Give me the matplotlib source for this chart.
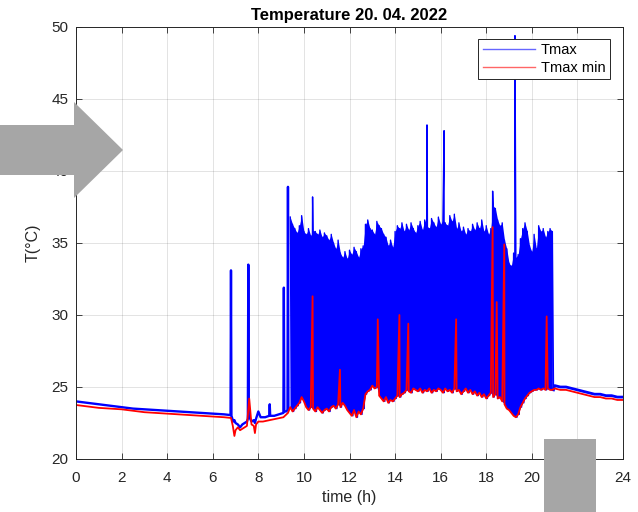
import numpy as np
import matplotlib
matplotlib.use("Agg")
import matplotlib.pyplot as plt
from matplotlib.patches import Polygon
from matplotlib.lines import Line2D

# ---------------- data ----------------
# quiet period before the active phase: Tmax
t_pre = [0, 0.5, 1, 1.5, 2, 2.5, 3, 3.5, 4, 4.5, 5, 5.5, 6, 6.5, 6.78, 6.8, 6.82,
         6.9, 6.95, 7.0, 7.1, 7.2, 7.3, 7.4, 7.5, 7.54, 7.56, 7.58, 7.7, 7.8, 7.85,
         7.9, 8.0, 8.1, 8.3, 8.48, 8.5, 8.52, 8.7, 8.9, 9.1, 9.12, 9.14, 9.22, 9.28,
         9.3, 9.32]
tmax_pre = [24.0, 23.9, 23.8, 23.7, 23.6, 23.5, 23.45, 23.4, 23.35, 23.3, 23.25, 23.2,
            23.15, 23.1, 23.05, 33.1, 23.0, 22.6, 22.7, 22.5, 22.4, 22.2, 22.4, 22.5,
            22.6, 22.8, 33.5, 23.0, 22.6, 22.7, 22.5, 22.8, 23.3, 22.9, 22.9, 23.0,
            23.8, 23.0, 23.0, 23.1, 23.2, 31.9, 23.3, 23.3, 23.4, 38.9, 23.5]

# active phase: peak envelope (every 0.1 h from 9.4 h) and trough values
t_act_start = 9.4
tmax_hi = [36.8, 36.3, 36.0, 35.7, 36.2, 36.9, 35.8, 35.6, 36.0, 35.5,
           35.9, 35.8, 35.6, 35.9, 35.4, 35.7, 35.5, 35.2, 35.6, 35.0,
           34.6, 35.2, 34.3, 34.0, 34.4, 33.9, 34.5, 34.2, 34.7, 34.4,
           34.0, 34.6, 34.8, 36.3, 36.6, 36.0, 35.9, 35.6, 36.5, 36.2,
           36.0, 35.6, 35.4, 34.8, 35.2, 34.7, 35.8, 36.2, 36.0, 36.4,
           35.8, 36.3, 35.9, 36.4, 36.0, 35.7, 36.2, 36.5, 35.9, 36.6,
           36.2, 36.0, 36.7, 36.4, 36.1, 36.8, 36.3, 36.6, 36.4, 36.2,
           36.9, 36.5, 37.0, 36.0, 36.4, 35.8, 36.1, 35.6, 36.0, 35.8,
           36.3, 35.9, 36.4, 36.0, 36.6, 35.8, 36.2, 35.6, 36.0, 37.6,
           37.4, 36.6, 36.2, 36.4, 35.2, 34.6, 33.6, 33.4, 34.3, 34.0,
           34.2, 35.3, 36.0, 36.4, 35.8, 34.8, 34.4, 35.6, 34.6, 36.2,
           35.8, 36.0, 35.4, 35.8, 36.0, 35.8]
tmin_act = [23.6, 23.3, 23.5, 23.7, 23.9, 24.3, 24.0, 23.6, 23.4, 23.6,
            23.5, 23.3, 23.6, 23.4, 23.2, 23.4, 23.5, 23.3, 23.6, 23.7,
            23.5, 23.8, 23.6, 23.9, 23.7, 23.4, 23.2, 23.0, 23.4, 22.9,
            23.3, 23.1, 23.5, 24.5, 24.7, 24.8, 25.1, 24.9, 25.0, 24.4,
            24.2, 24.0, 24.3, 23.9, 24.1, 24.0, 24.2, 24.4, 24.3, 24.5,
            24.6, 24.8, 24.7, 24.6, 24.9, 24.8, 24.7, 24.9, 24.6, 24.8,
            24.7, 24.9, 24.6, 24.8, 24.7, 24.9, 24.8, 24.6, 24.9, 24.7,
            24.8, 24.6, 24.9, 24.7, 24.8, 24.5, 24.7, 24.9, 24.6, 24.8,
            24.5, 24.7, 24.4, 24.6, 24.3, 24.5, 24.2, 24.4, 24.6, 24.3,
            24.5, 24.2, 24.3, 24.0, 23.8, 23.5, 23.4, 23.2, 23.0, 22.9,
            23.1, 23.6, 23.9, 24.2, 24.4, 24.6, 24.7, 24.8, 24.8, 24.9,
            24.8, 24.9, 24.8, 24.9, 24.8, 24.8]

# isolated tall spikes of Tmax during the active phase
t_max_spk = [10.38, 15.40, 16.15, 18.28, 19.26]
tmax_spk = [38.2, 43.2, 42.8, 38.6, 49.4]

# quiet period after the active phase
t_post = [21.0, 21.25, 21.5, 21.75, 22.0, 22.25, 22.5, 22.75, 23.0, 23.25, 23.5, 23.75, 24.0]
tmax_post = [25.1, 25.0, 25.0, 24.9, 24.8, 24.7, 24.6, 24.5, 24.5, 24.4, 24.4, 24.3, 24.3]
tmin_post = [24.9, 24.8, 24.8, 24.7, 24.6, 24.5, 24.4, 24.3, 24.3, 24.2, 24.2, 24.1, 24.1]

# Tmax min before the active phase
t_min_pre = [0, 0.5, 1, 1.5, 2, 2.5, 3, 3.5, 4, 4.5, 5, 5.5, 6, 6.5, 6.8, 6.88, 6.95,
             7.0, 7.1, 7.2, 7.3, 7.4, 7.5, 7.6, 7.7, 7.8, 7.85, 7.9, 8.0, 8.2, 8.5,
             8.8, 9.1, 9.3]
tmin_pre = [23.75, 23.65, 23.55, 23.5, 23.45, 23.35, 23.25, 23.2, 23.15, 23.1, 23.05,
            23.0, 22.95, 22.9, 22.85, 22.3, 21.6, 22.0, 22.2, 22.0, 22.1, 22.2, 22.3,
            24.2, 22.4, 22.3, 21.8, 22.4, 22.6, 22.6, 22.7, 22.8, 22.9, 23.2]

# isolated spikes of Tmax min during the active phase
t_min_spk = [10.38, 11.58, 13.24, 14.19, 14.58, 16.68, 18.28, 18.46, 18.79, 20.65]
tmin_spk = [31.3, 26.2, 29.7, 30.0, 29.4, 29.7, 36.1, 30.9, 34.9, 29.9]

title = "Temperature 20. 04. 2022"
xticks = list(range(0, 25, 2))
yticks = list(range(20, 51, 5))

# ---------------- build series ----------------
n_act = len(tmax_hi)
t_hi = t_act_start + 0.1 * np.arange(n_act)
t_lo = t_hi + 0.05
t_zig = np.concatenate([t_hi, t_lo, t_max_spk])
v_zig = np.concatenate([tmax_hi, tmin_act, tmax_spk])
order = np.argsort(t_zig, kind="stable")
t_zig, v_zig = t_zig[order], v_zig[order]

t_red = np.concatenate([t_min_pre, t_hi, t_min_spk, t_post])
v_red = np.concatenate([tmin_pre, tmin_act, tmin_spk, tmin_post])
order = np.argsort(t_red, kind="stable")
t_red, v_red = t_red[order], v_red[order]

# ---------------- plot ----------------
plt.rcParams['font.family'] = ['Liberation Sans', 'DejaVu Sans']
fig = plt.figure(figsize=(6.38, 5.12), dpi=100)
ax = fig.add_axes([76 / 638, 1 - 459 / 512, (623 - 76) / 638, 432 / 512])

blue = (0, 0, 1)
red = (1, 0, 0)
ax.plot(t_pre, tmax_pre, color=blue, lw=1.7)
ax.fill_between(t_hi, tmin_act, tmax_hi, color=blue, lw=0)
ax.plot(t_zig, v_zig, color=blue, lw=1.0)
ax.plot(np.concatenate([[t_zig[-1]], t_post]), np.concatenate([[v_zig[-1]], tmax_post]),
        color=blue, lw=2.0)
ax.plot(t_red, v_red, color=red, lw=1.3)

ax.set_xlim(0, 24)
ax.set_ylim(20, 50)
ax.set_xticks(xticks)
ax.set_yticks(yticks)
gray = (0.15, 0.15, 0.15)
ax.tick_params(direction='in', top=True, right=True, labelsize=11, colors=gray,
               length=4, width=0.6)
ax.tick_params(axis='x', pad=8.5)
ax.tick_params(axis='y', pad=5.5)
for s in ax.spines.values():
    s.set_color(gray)
    s.set_linewidth(0.7)
ax.grid(True, color=(0.15, 0.15, 0.15), alpha=0.15, lw=0.6)
ax.set_axisbelow(True)
ax.set_xlabel("time (h)", fontsize=11.5, color=gray, labelpad=4)
ax.set_ylabel("T(°C)", fontsize=11.5, color=gray, labelpad=8)
ax.set_title(title, fontsize=12, fontweight='bold', pad=5)

handles = [Line2D([], [], color=blue, lw=1, alpha=0.6),
           Line2D([], [], color=red, lw=1, alpha=0.6)]
leg = ax.legend(handles, ["Tmax", "Tmax min"], loc='upper right',
                bbox_to_anchor=(0.976, 0.972), fontsize=10.5, handlelength=3.6,
                fancybox=False, framealpha=1, edgecolor=gray, borderpad=0.3,
                labelspacing=0.25, handletextpad=0.4, borderaxespad=0)
leg.get_frame().set_linewidth(0.7)

# gray overlay shapes
W, H = 638, 512
arrow_px = [(0, 125), (74, 125), (74, 102), (123, 150), (74, 198), (74, 175), (0, 175)]
fig.add_artist(Polygon([(x / W, 1 - y / H) for x, y in arrow_px], closed=True,
                       transform=fig.transFigure, facecolor='#a6a6a6',
                       edgecolor='none', zorder=10))
rect_px = [(544, 439), (596, 439), (596, 512), (544, 512)]
fig.add_artist(Polygon([(x / W, 1 - y / H) for x, y in rect_px], closed=True,
                       transform=fig.transFigure, facecolor='#a6a6a6',
                       edgecolor='none', zorder=10))

fig.savefig("out.png", dpi=100)
